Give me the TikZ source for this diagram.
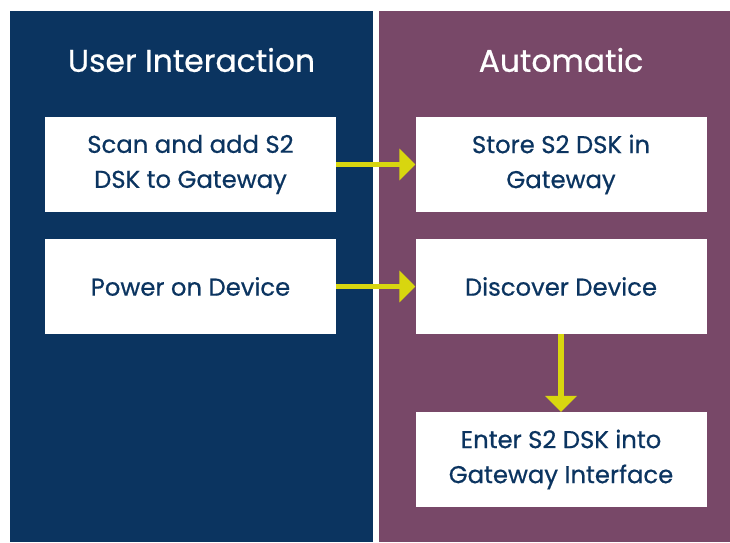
\documentclass[tikz,border=0pt]{standalone}
\usepackage{fontspec}
\setmainfont{Poppins}[FakeBold=0.6]
\usetikzlibrary{arrows.meta}

\definecolor{navy}{HTML}{0B3460}
\definecolor{plum}{HTML}{784868}
\definecolor{lime}{HTML}{D8D60F}

\tikzset{
  stepbox/.style={fill=white, minimum width=291pt, minimum height=95pt,
    align=center, text=navy, font=\fontsize{24.3}{35}\selectfont},
  title/.style={text=white, font=\fontsize{31.4}{38}\selectfont},
  flow/.style={draw=lime, line width=5.5pt,
    -{Triangle[width=31pt,length=16pt]}}
}

\begin{document}
\begin{tikzpicture}[x=1pt, y=-1pt]
    \useasboundingbox (0,0) rectangle (730,542);
    % the two panels
    \fill[navy] (10,11) rectangle (373,542);
    \fill[plum] (379,11) rectangle (730,542);
    \node[title] (user) at (191.5,60) {User Interaction};
    \node[title] (auto) at (561,60) {Automatic};
    % boxes
    \node[stepbox] (scan) at (190.5,164.5) {Scan and add S2\\DSK to Gateway};
    \node[stepbox] (power) at (190.5,286.5) {Power on Device};
    \node[stepbox] (store) at (561,164.5) {Store S2 DSK in\\Gateway};
    \node[stepbox] (discover) at (561,286.5) {Discover Device};
    \node[stepbox] (enter) at (561,459.5) {Enter S2 DSK into\\Gateway Interface};
    % arrows
    \draw[flow] (scan) -- (store);
    \draw[flow] (power) -- (discover);
    \draw[flow] (discover) -- (enter);
\end{tikzpicture}
\end{document}
